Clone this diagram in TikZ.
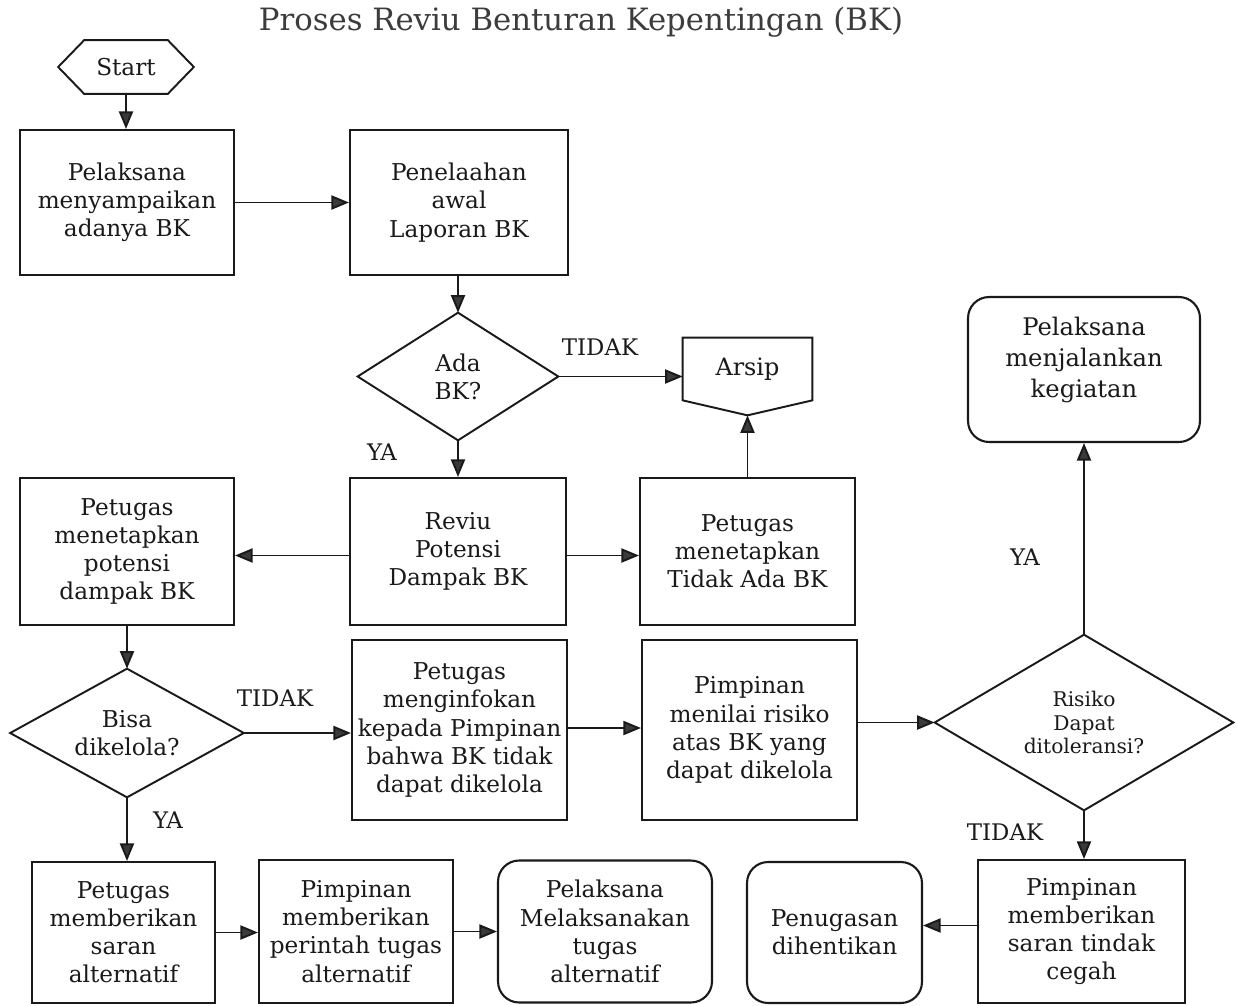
\documentclass[tikz,border=0pt]{standalone}
\usepackage{fontspec}
\setmainfont{DejaVu Serif}
\usetikzlibrary{arrows.meta,calc}
\definecolor{ink}{HTML}{1A1A1A}
\definecolor{tipc}{HTML}{3A3A3A}
\tikzset{
  box/.style={draw=ink,line width=1.2pt,rectangle,inner sep=2pt,align=center,
    font=\fontsize{13.2}{16}\selectfont,text=ink},
  rbox/.style={box,rounded corners=12pt},
  shp/.style={rectangle,inner sep=0pt,align=center,font=\fontsize{13.2}{16}\selectfont,text=ink},
  outl/.style={draw=ink,line width=1.1pt,line join=miter},
  conn/.style={draw=ink,line width=1.1pt,-{Triangle[length=10pt,width=8pt,fill=tipc]}},
  lbl/.style={font=\fontsize{13}{15}\selectfont,text=ink,inner sep=0pt}
}
\begin{document}
\begin{tikzpicture}[x=0.02cm,y=-0.02cm]
\useasboundingbox (0,0) rectangle (1238,1005);
\fill[white] (0,0) rectangle (1238,1005);

\node[font=\fontsize{17.5}{20}\selectfont,text=ink!85] (title) at (581,22) {Proses Reviu Benturan Kepentingan (BK)};

% start hexagon
\node[shp,minimum width=2.7cm,minimum height=1.06cm] (start) at (126,67) {Start};
\draw[outl] (start.west) -- ([xshift=0.52cm]start.north west) -- ([xshift=-0.52cm]start.north east)
  -- (start.east) -- ([xshift=-0.52cm]start.south east) -- ([xshift=0.52cm]start.south west) -- cycle;

\node[box,minimum width=4.28cm,minimum height=2.9cm] (b1) at (127,202.5) {Pelaksana\\menyampaikan\\adanya BK};
\node[box,minimum width=4.36cm,minimum height=2.9cm] (b2) at (459,202.5) {Penelaahan\\awal\\Laporan BK};

% Ada BK diamond
\node[shp,minimum width=4.0cm,minimum height=2.54cm] (ada) at (458,376.5) {Ada\\BK?};
\draw[outl] (ada.north) -- (ada.east) -- (ada.south) -- (ada.west) -- cycle;

% Arsip
\node[shp,minimum width=2.58cm,minimum height=1.24cm,font=\fontsize{13.6}{16}\selectfont] (arsip) at (747.5,369) {Arsip};
\coordinate (arsiptip) at ([yshift=-0.3cm]arsip.south);
\draw[outl] (arsip.north west) -- (arsip.north east) -- (arsip.south east) -- (arsiptip) -- (arsip.south west) -- cycle;

\node[box,minimum width=4.32cm,minimum height=2.94cm] (reviu) at (458,551.5) {Reviu\\Potensi\\Dampak BK};
\node[box,minimum width=4.3cm,minimum height=2.94cm] (tidakada) at (747.5,551.5) {Petugas\\menetapkan\\Tidak Ada BK};
\node[box,minimum width=4.28cm,minimum height=2.94cm] (potensi) at (127,551.5) {Petugas\\menetapkan\\potensi\\dampak BK};

% Bisa dikelola diamond
\node[shp,minimum width=4.66cm,minimum height=2.56cm] (bisa) at (127,733) {Bisa\\dikelola?};
\draw[outl] (bisa.north) -- (bisa.east) -- (bisa.south) -- (bisa.west) -- cycle;

\node[box,minimum width=4.3cm,minimum height=3.6cm] (info) at (459.5,730) {Petugas\\menginfokan\\kepada Pimpinan\\bahwa BK tidak\\dapat dikelola};
\node[box,minimum width=4.3cm,minimum height=3.6cm] (nilai) at (749.5,730) {Pimpinan\\menilai risiko\\atas BK yang\\dapat dikelola};

% Risiko diamond
\node[shp,minimum width=5.96cm,minimum height=3.5cm,font=\fontsize{11.5}{13.2}\selectfont] (risiko) at (1084,722.5) {Risiko\\Dapat\\ditoleransi?};
\draw[outl] (risiko.north) -- (risiko.east) -- (risiko.south) -- (risiko.west) -- cycle;

\node[rbox,minimum width=4.64cm,minimum height=2.9cm,font=\fontsize{13.8}{17.6}\selectfont] (kegiatan) at (1084,369.5) {Pelaksana\\menjalankan\\kegiatan\\[-4pt]};

\node[box,minimum width=4.14cm,minimum height=2.86cm] (cegah) at (1081.5,931.5) {Pimpinan\\memberikan\\saran tindak\\cegah};
\node[rbox,minimum width=3.5cm,minimum height=2.82cm] (stop) at (834.5,932.5) {Penugasan\\dihentikan};

\node[box,minimum width=3.66cm,minimum height=2.82cm] (saran) at (123.5,932.5) {Petugas\\memberikan\\saran\\alternatif};
\node[box,minimum width=3.88cm,minimum height=2.86cm] (perintah) at (356,931.5) {Pimpinan\\memberikan\\perintah tugas\\alternatif};
\node[rbox,minimum width=4.28cm,minimum height=2.84cm] (laksana) at (605,931.5) {Pelaksana\\Melaksanakan\\tugas\\alternatif};

% connectors
\draw[conn] (start.south) -- (b1.north -| start.south);
\draw[conn] (b1.east) -- (b2.west);
\draw[conn] (ada.north |- b2.south) -- (ada.north);
\draw[conn] (ada.east) -- (arsip.west |- ada.east);
\draw[conn] (ada.south) -- (reviu.north -| ada.south);
\draw[conn] (tidakada.north) -- (arsiptip);
\draw[conn] ([yshift=-0.08cm]reviu.east) -- ([yshift=-0.08cm]tidakada.west);
\draw[conn] ([yshift=-0.08cm]reviu.west) -- ([yshift=-0.08cm]potensi.east);
\draw[conn] (potensi.south) -- (bisa.north);
\draw[conn] (bisa.east) -- (info.west |- bisa.east);
\draw[conn] ([yshift=0.04cm]info.east) -- ([yshift=0.04cm]nilai.west);
\draw[conn] (nilai.east |- risiko.west) -- (risiko.west);
\draw[conn] (risiko.north) -- (kegiatan.south -| risiko.north);
\draw[conn] (risiko.south) -- (cegah.north -| risiko.south);
\draw[conn] ([yshift=0.12cm]cegah.west) -- ([yshift=0.12cm]cegah.west -| stop.east);
\draw[conn] (bisa.south) -- (saran.north -| bisa.south);
\draw[conn] (saran.east) -- (saran.east -| perintah.west);
\draw[conn] (perintah.east) -- (perintah.east -| laksana.west);

% labels
\node[lbl] (l1) at (600,347) {TIDAK};
\node[lbl] (l2) at (382,452) {YA};
\node[lbl] (l3) at (275,698) {TIDAK};
\node[lbl] (l4) at (168,820) {YA};
\node[lbl] (l5) at (1025,557) {YA};
\node[lbl] (l6) at (1005,832) {TIDAK};
\end{tikzpicture}
\end{document}
